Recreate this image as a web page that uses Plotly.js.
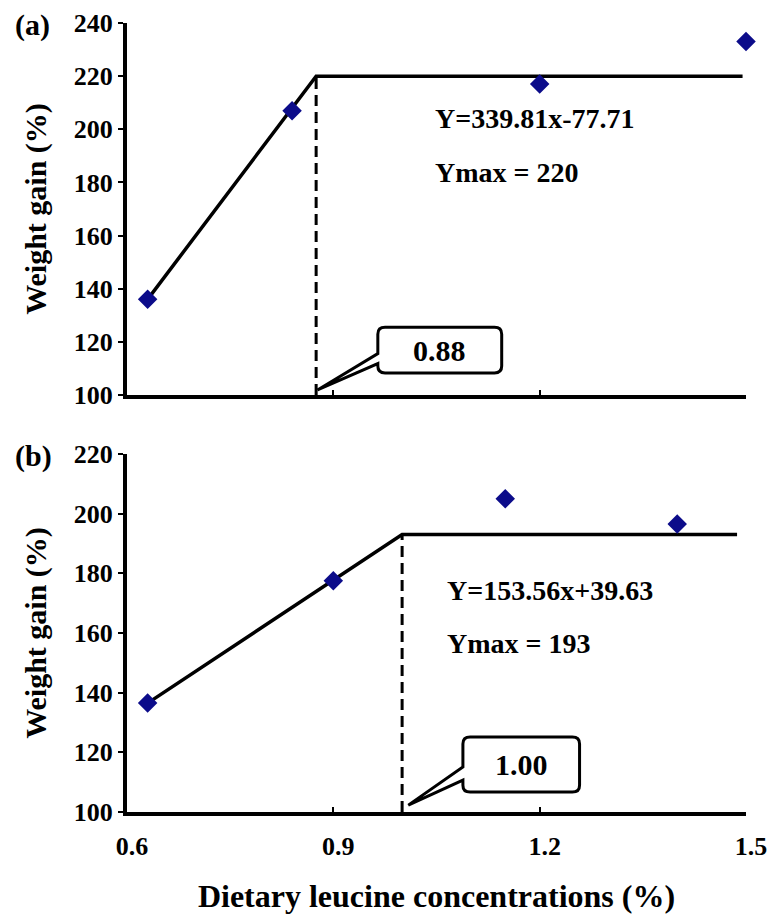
<!DOCTYPE html>
<html>
<head>
<meta charset="utf-8">
<script src="https://cdn.plot.ly/plotly-3.0.1.min.js"></script>
<style>html,body{margin:0;padding:0;background:#fff;}#chart{width:771px;height:914px;}</style>
</head>
<body>
<div id="chart"></div>
<script>
// ---- Data ----
// Panel (a)
const xA = [0.63, 0.84, 1.2, 1.5];
const yA = [136, 207, 217, 233];
const fitXA = [0.63, 0.875, 1.495];
const fitYA = [136, 220, 220];
const breakA = 0.875;
const ymaxA = 220;
const eqA = "Y=339.81x-77.71";
const ymaxTextA = "Ymax = 220";
const calloutA = "0.88";
const yTicksA = [100, 120, 140, 160, 180, 200, 220, 240];

// Panel (b)
const xB = [0.63, 0.9, 1.15, 1.4];
const yB = [136.5, 177.5, 205, 196.5];
const fitXB = [0.63, 1.0, 1.487];
const fitYB = [136.5, 193, 193];
const breakB = 1.0;
const ymaxB = 193;
const eqB = "Y=153.56x+39.63";
const ymaxTextB = "Ymax = 193";
const calloutB = "1.00";
const yTicksB = [100, 120, 140, 160, 180, 200, 220];

const xTicks = [0.6, 0.9, 1.2, 1.5];
const xTickText = ["0.6", "0.9", "1.2", "1.5"];
const yTitle = "Weight gain (%)";
const xTitle = "Dietary leucine concentrations (%)";
const panelLabels = ["(a)", "(b)"];

// ---- Styling ----
const FONT = "Liberation Serif";
const markerColor = "#0c0c8a";
const bold = s => "<b>" + s + "</b>";

function calloutPath(b) {
  const {l, r, t, bt, rx, ry, uj, lj, tx, ty} = b;
  return `M ${l + rx},${t} L ${r - rx},${t} Q ${r},${t} ${r},${t - ry} ` +
         `L ${r},${bt + ry} Q ${r},${bt} ${r - rx},${bt} L ${l + rx},${bt} ` +
         `Q ${l},${bt} ${l},${bt + ry} L ${l},${lj} L ${tx},${ty} L ${l},${uj} ` +
         `L ${l},${t - ry} Q ${l},${t} ${l + rx},${t} Z`;
}

const boxA = {l: 0.9647, r: 1.1448, t: 125.5, bt: 108.3, rx: 0.0105, ry: 2.6, uj: 115.6, lj: 111.8, tx: breakA + 0.002, ty: 101.9};
const boxB = {l: 1.0884, r: 1.258, t: 125.1, bt: 106.7, rx: 0.0105, ry: 2.3, uj: 115.1, lj: 110.7, tx: breakB + 0.009, ty: 102.3};

const traces = [
  {x: fitXA, y: fitYA, xaxis: "x", yaxis: "y", mode: "lines", line: {color: "#000", width: 3.5}, hoverinfo: "skip"},
  {x: [breakA, breakA], y: [100, ymaxA], xaxis: "x", yaxis: "y", mode: "lines", line: {color: "#000", width: 3, dash: "11px,6px"}, hoverinfo: "skip"},
  {x: xA, y: yA, xaxis: "x", yaxis: "y", mode: "markers", cliponaxis: false,
   marker: {symbol: "diamond", size: 15, color: markerColor}},
  {x: fitXB, y: fitYB, xaxis: "x2", yaxis: "y2", mode: "lines", line: {color: "#000", width: 3.5}, hoverinfo: "skip"},
  {x: [breakB, breakB], y: [100, ymaxB], xaxis: "x2", yaxis: "y2", mode: "lines", line: {color: "#000", width: 3, dash: "11px,6px"}, hoverinfo: "skip"},
  {x: xB, y: yB, xaxis: "x2", yaxis: "y2", mode: "markers", cliponaxis: false,
   marker: {symbol: "diamond", size: 15, color: markerColor}}
];

const tickFont = {family: FONT, size: 26, color: "#000"};
const titleFont = {family: FONT, size: 30, color: "#000"};

const xCommon = {
  range: [0.6, 1.5], tickvals: xTicks, ticktext: xTickText.map(bold),
  ticks: "inside", ticklen: 5, tickwidth: 2, tickcolor: "#000",
  showline: true, linewidth: 4, linecolor: "#000",
  showgrid: false, zeroline: false, tickfont: tickFont, automargin: false, fixedrange: true
};
const yCommon = {
  ticks: "outside", ticklen: 5, tickwidth: 2, tickcolor: "#000",
  showline: true, linewidth: 4, linecolor: "#000",
  showgrid: false, zeroline: false, tickfont: tickFont, automargin: false, fixedrange: true,
  title: {text: bold(yTitle), font: titleFont, standoff: 19}
};

const eqFont = {family: FONT, size: 28, color: "#000"};
const callFont = {family: FONT, size: 30, color: "#000"};
const labFont = {family: FONT, size: 30, color: "#000"};

const layout = {
  width: 771, height: 914,
  margin: {l: 127, r: 25, t: 0, b: 0},
  paper_bgcolor: "#fff", plot_bgcolor: "#fff",
  showlegend: false,
  font: {family: FONT, color: "#000"},
  xaxis: Object.assign({}, xCommon, {anchor: "y", showticklabels: false}),
  yaxis: Object.assign({}, yCommon, {domain: [0.56783, 0.97484], range: [100, 240],
    tickvals: yTicksA, ticktext: yTicksA.map(v => bold(String(v)))}),
  xaxis2: Object.assign({}, xCommon, {anchor: "y2", showticklabels: true, ticklabelstandoff: 8, ticklabelshift: 5,
    title: {text: bold(xTitle), font: Object.assign({}, titleFont, {size: 32}), standoff: 28}}),
  yaxis2: Object.assign({}, yCommon, {domain: [0.1116, 0.50328], range: [100, 220],
    tickvals: yTicksB, ticktext: yTicksB.map(v => bold(String(v)))}),
  shapes: [
    {type: "path", xref: "x", yref: "y", path: calloutPath(boxA), fillcolor: "#fff", line: {color: "#000", width: 3}, layer: "above"},
    {type: "path", xref: "x2", yref: "y2", path: calloutPath(boxB), fillcolor: "#fff", line: {color: "#000", width: 3}, layer: "above"}
  ],
  annotations: [
    {xref: "x", yref: "y", x: 1.0446, y: 204, xanchor: "left", yanchor: "middle", text: bold(eqA), showarrow: false, font: eqFont},
    {xref: "x", yref: "y", x: 1.0446, y: 183.7, xanchor: "left", yanchor: "middle", text: bold(ymaxTextA), showarrow: false, font: eqFont},
    {xref: "x", yref: "y", x: (boxA.l + boxA.r) / 2, y: (boxA.t + boxA.bt) / 2, xanchor: "center", yanchor: "middle", text: bold(calloutA), showarrow: false, font: callFont},
    {xref: "x2", yref: "y2", x: 1.062, y: 174.4, xanchor: "left", yanchor: "middle", text: bold(eqB), showarrow: false, font: eqFont},
    {xref: "x2", yref: "y2", x: 1.062, y: 156.6, xanchor: "left", yanchor: "middle", text: bold(ymaxTextB), showarrow: false, font: eqFont},
    {xref: "x2", yref: "y2", x: (boxB.l + boxB.r) / 2, y: (boxB.t + boxB.bt) / 2, xanchor: "center", yanchor: "middle", text: bold(calloutB), showarrow: false, font: callFont},
    {xref: "paper", yref: "paper", x: -0.184, y: 1 - 25 / 914, xanchor: "left", yanchor: "middle", text: bold(panelLabels[0]), showarrow: false, font: labFont},
    {xref: "paper", yref: "paper", x: -0.184, y: 1 - 456 / 914, xanchor: "left", yanchor: "middle", text: bold(panelLabels[1]), showarrow: false, font: labFont}
  ]
};

Plotly.newPlot("chart", traces, layout, {staticPlot: true, displayModeBar: false});
</script>
</body>
</html>
